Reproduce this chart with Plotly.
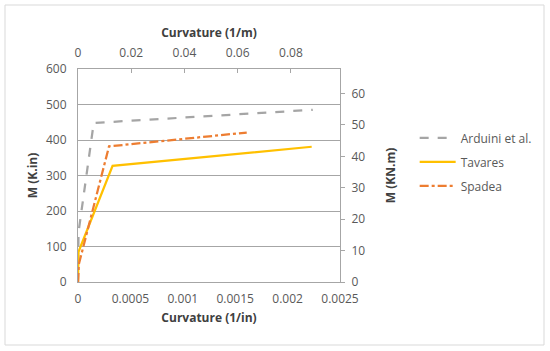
import plotly.graph_objects as go

# Curvature (1/in) and Moment (K.in)
arduini_x = [0, 0.000005, 0.00015, 0.00224]
arduini_y = [0, 140, 448, 485]
tavares_x = [0, 0.000005, 0.00033, 0.00223]
tavares_y = [0, 85, 327, 381]
spadea_x = [0, 0.000008, 0.000296, 0.00161]
spadea_y = [0, 50, 382, 421]

x_ticks = [0, 0.0005, 0.001, 0.0015, 0.002, 0.0025]
x_ticktext = ["0", "0.0005", "0.001", "0.0015", "0.002", "0.0025"]
x2_ticks = [0, 0.02, 0.04, 0.06, 0.08]
x2_ticktext = ["0", "0.02", "0.04", "0.06", "0.08"]
y_ticks = [0, 100, 200, 300, 400, 500, 600]
y2_ticks = [0, 10, 20, 30, 40, 50, 60]

FONT = "Open Sans"
TICKC = "#595959"
TITLEC = "#404040"
AXC = "#a6a6a6"
FS = 12

fig = go.Figure()
fig.add_trace(go.Scatter(x=arduini_x, y=arduini_y, mode="lines", name="Arduini et al.",
                         legendgroup="a",
                         line=dict(color="#a5a5a5", width=2.25, dash="dash")))
fig.add_trace(go.Scatter(x=tavares_x, y=tavares_y, mode="lines", name="Tavares",
                         legendgroup="t",
                         line=dict(color="#ffc000", width=2.25)))
fig.add_trace(go.Scatter(x=spadea_x, y=spadea_y, mode="lines", name="Spadea",
                         legendgroup="s",
                         line=dict(color="#ed7d31", width=2.25, dash="dashdot")))
fig.add_trace(go.Scatter(x=[], y=[], xaxis="x2", yaxis="y2", showlegend=False, hoverinfo="skip"))

fig.update_layout(
    width=550, height=351,
    margin=dict(l=78, r=210, t=69, b=69),
    paper_bgcolor="white", plot_bgcolor="white",
    font=dict(family=FONT, size=FS, color=TICKC),
    showlegend=True,
    legend=dict(x=1.285, y=0.745, xanchor="left", yanchor="top",
                font=dict(family=FONT, size=FS, color=TICKC),
                bgcolor="rgba(0,0,0,0)", tracegroupgap=5, itemwidth=36),
    xaxis=dict(range=[0, 0.0025], tickvals=x_ticks, ticktext=x_ticktext, automargin=False,
               showgrid=False, zeroline=False, showline=True, linecolor=AXC, linewidth=1,
               ticks="", ticklabelstandoff=6, tickfont=dict(size=FS, color=TICKC),
               title=dict(text="<b>Curvature (1/in)</b>", font=dict(size=FS, color=TITLEC), standoff=7)),
    xaxis2=dict(range=[0, 0.0025 * 39.37], overlaying="x", side="top", anchor="y", automargin=False,
                tickvals=x2_ticks, ticktext=x2_ticktext,
                showgrid=False, zeroline=False, showline=True, linecolor=AXC, linewidth=1,
                ticks="inside", ticklen=4, tickcolor=AXC, ticklabelstandoff=6,
                tickfont=dict(size=FS, color=TICKC),
                title=dict(text="<b>Curvature (1/m)</b>", font=dict(size=FS, color=TITLEC), standoff=4)),
    yaxis=dict(range=[0, 600], tickvals=y_ticks, showgrid=True, gridcolor=AXC, gridwidth=1,
               automargin=False,
               zeroline=False, showline=True, linecolor=AXC, linewidth=1, ticks="",
               ticklabelstandoff=8, tickfont=dict(size=FS, color=TICKC),
               title=dict(text="<b>M (K.in)</b>", font=dict(size=FS, color=TITLEC), standoff=5)),
    yaxis2=dict(range=[0, 67.8], overlaying="y", side="right", anchor="x", automargin=False,
                tickvals=y2_ticks, showgrid=False, zeroline=False, showline=True,
                linecolor=AXC, linewidth=1, ticks="outside", ticklen=4, tickcolor=AXC,
                ticklabelstandoff=4, tickfont=dict(size=FS, color=TICKC),
                title=dict(text="<b>M (KN.m)</b>", font=dict(size=FS, color=TITLEC), standoff=22)),
    shapes=[dict(type="rect", xref="paper", yref="paper",
                 x0=(5 - 78) / 262, x1=(544 - 78) / 262,
                 y0=(282 - 345) / 213, y1=(282 - 5) / 213,
                 line=dict(color="#d9d9d9", width=1), fillcolor="rgba(0,0,0,0)", layer="below")],
)

fig.write_html("out.html", config={"displayModeBar": False},
               post_script="document.body.style.margin='0';document.body.style.padding='0';")
